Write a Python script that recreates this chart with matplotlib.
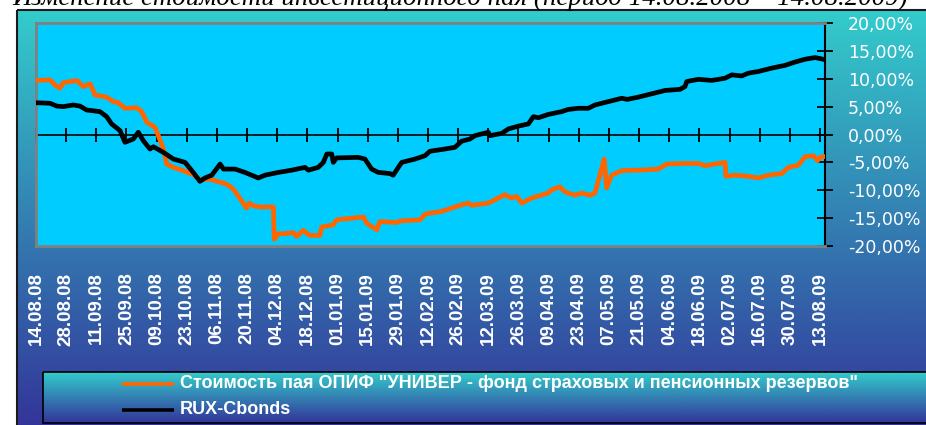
import numpy as np
import matplotlib
matplotlib.use("Agg")
import matplotlib.pyplot as plt
from matplotlib.patches import Rectangle

# ---------------- data ----------------
title_text = "Изменение стоимости инвестиционного пая (период 14.08.2008 – 14.08.2009)"
series_names = ['Стоимость пая ОПИФ "УНИВЕР - фонд страховых и пенсионных резервов"',
                'RUX-Cbonds']

tick_labels = ["14.08.08", "28.08.08", "11.09.08", "25.09.08", "09.10.08", "23.10.08",
               "06.11.08", "20.11.08", "04.12.08", "18.12.08", "01.01.09", "15.01.09",
               "29.01.09", "12.02.09", "26.02.09", "12.03.09", "26.03.09", "09.04.09",
               "23.04.09", "07.05.09", "21.05.09", "04.06.09", "18.06.09", "02.07.09",
               "16.07.09", "30.07.09", "13.08.09"]
tick_days = [14 * i for i in range(len(tick_labels))]   # days since 14.08.08

y_ticks = [-20, -15, -10, -5, 0, 5, 10, 15, 20]

# days since 14.08.2008, value in %
fund_days = [0, 6.5, 8.8, 11.1, 12.7, 18.9, 22.0, 25.1, 27.4, 32.8, 35.9, 38.2, 41.3,
             46.7, 49.1, 51.4, 55.2, 56.8, 59.1, 60.7, 63.8, 68.4, 73.0, 76.1, 80.8,
             84.0, 87.7, 90.5, 92.0, 94.7, 97.8, 99.0, 101.0, 104.0, 110.2, 110.6,
             112.5, 114.8, 119.5, 121.0, 124.1, 126.0, 127.2, 131.8, 132.6, 138.0,
             139.6, 152.0, 153.5, 158.2, 159.7, 167.5, 169.0, 178.3, 180.6, 183.0,
             188.3, 197.6, 200.7, 202.3, 210.0, 217.7, 220.8, 223.2, 225.5, 230.1,
             237.8, 239.4, 243.3, 245.6, 250.2, 253.3, 257.2, 259.5, 263.8, 264.9,
             267.2, 271.9, 275.8, 279.6, 288.9, 292.8, 299.8, 307.5, 310.6, 315.2,
             319.9, 320.3, 324.5, 330.7, 335.3, 340.0, 346.2, 349.3, 353.9, 357.0,
             360.9, 362.9, 364.0, 365.5]
fund_vals = [9.7, 9.8, 8.9, 8.3, 9.3, 9.7, 8.6, 9.1, 7.1, 6.7, 5.9, 5.7, 4.7,
             4.8, 4.1, 2.2, 1.3, -0.2, -2.6, -5.3, -5.9, -6.5, -7.2, -8.1, -8.0,
             -8.4, -8.8, -9.4, -10.0, -11.5, -13.2, -12.3, -12.8, -13.0, -13.0, -18.8,
             -17.8, -17.8, -17.6, -18.3, -17.2, -17.8, -18.1, -18.1, -16.6, -16.2,
             -15.3, -14.8, -15.9, -17.1, -15.6, -15.8, -15.5, -15.3, -14.3, -14.1,
             -13.8, -12.6, -12.3, -12.7, -12.3, -10.8, -11.4, -11.1, -12.3, -11.4,
             -10.5, -9.9, -9.4, -10.3, -10.9, -10.5, -10.9, -10.5, -4.4, -9.6,
             -7.3, -6.5, -6.4, -6.4, -6.2, -5.3, -5.2, -5.2, -5.6, -5.3,
             -5.0, -7.5, -7.3, -7.5, -7.8, -7.3, -7.0, -5.9, -5.5, -4.0,
             -3.8, -4.7, -4.1, -4.0]

rux_days = [0, 6.5, 9.6, 12.7, 17.3, 20.4, 23.5, 29.7, 32.8, 35.1, 39.0, 41.3, 45.2,
            47.5, 49.8, 52.9, 54.5, 59.1, 63.8, 69.2, 73.0, 76.1, 78.4, 81.6, 85.5,
            87.0, 92.4, 97.0, 103.2, 106.3, 112.5, 118.7, 124.9, 126.4, 131.0, 133.4,
            135.0, 137.3, 138.0, 139.6, 149.6, 152.7, 155.8, 158.9, 164.3, 165.8,
            168.2, 169.8, 176.0, 180.6, 182.9, 189.9, 194.5, 197.6, 201.5, 203.8,
            210.0, 210.8, 216.2, 219.3, 223.9, 228.6, 230.9, 233.2, 237.8, 244.0,
            247.1, 251.8, 256.4, 259.5, 265.7, 271.9, 274.5, 279.6, 285.8, 292.0,
            299.0, 301.3, 302.1, 307.5, 313.7, 319.9, 323.0, 327.6, 330.7, 335.3,
            341.5, 347.7, 352.4, 357.0, 361.7, 365.5]
rux_vals = [5.7, 5.6, 5.1, 5.0, 5.3, 5.1, 4.4, 4.1, 3.2, 1.9, 0.7, -1.4, -0.8,
            0.4, -1.1, -2.6, -2.2, -3.2, -4.4, -5.0, -6.8, -8.4, -7.8, -7.3, -5.3,
            -6.2, -6.2, -6.8, -7.8, -7.3, -6.8, -6.4, -5.9, -6.4, -5.9, -5.0,
            -3.5, -3.5, -5.0, -4.2, -4.1, -4.4, -6.2, -6.8, -7.0, -7.3,
            -5.9, -5.0, -4.4, -3.8, -3.0, -2.6, -2.3, -1.2, -0.8, -0.2,
            0.4, -0.2, 0.2, 1.0, 1.5, 1.9, 3.2, 3.0, 3.6, 4.1,
            4.5, 4.7, 4.7, 5.3, 5.9, 6.5, 6.3, 6.7, 7.3, 7.9,
            8.1, 8.6, 9.5, 9.9, 9.7, 10.1, 10.7, 10.5, 11.0, 11.3,
            11.9, 12.4, 13.0, 13.5, 13.8, 13.5]

# ---------------- style ----------------
W, H = 926, 425
ORANGE = "#FF6600"
TEAL = np.array([51, 204, 204]) / 255
BLUE = np.array([51, 51, 153]) / 255
PLOT_BG = "#00CCFF"

fig = plt.figure(figsize=(W / 100, H / 100), dpi=100)
fig.patch.set_facecolor("white")

# background overlay in pixel coordinates
bg = fig.add_axes([0, 0, 1, 1], zorder=0)
bg.axis("off")


def vgrad(ax, x0, x1, y0, y1, c_top, c_bot):
    n = 256
    t = np.linspace(0, 1, n)[:, None]
    arr = (c_top[None, :] * (1 - t) + c_bot[None, :] * t)[:, None, :]
    ax.imshow(arr, extent=(x0, x1, y1, y0), origin="upper", aspect="auto",
              interpolation="bilinear", zorder=0)


# outer chart area
vgrad(bg, 17, 935, 10, 430, TEAL, BLUE)
bg.add_patch(Rectangle((17, 10), 935 - 17, 430 - 10, fill=False,
                       edgecolor="#1a1a1a", lw=1.5, zorder=1))
# legend box
vgrad(bg, 43, 935, 372, 423, TEAL, BLUE)
bg.add_patch(Rectangle((43, 372), 935 - 43, 423 - 372, fill=False,
                       edgecolor="black", lw=1.2, zorder=1))
bg.set_xlim(0, W)
bg.set_ylim(H, 0)

# legend entries
leg_colors = [ORANGE, "black"]
leg_y = [384, 410]
for name, col, yy in zip(series_names, leg_colors, leg_y):
    bg.plot([122, 174], [yy, yy], color=col, lw=2.6, solid_capstyle="butt", zorder=2)
    bg.text(180, yy, name, color="white", fontsize=13, fontweight="bold",
            family="Liberation Sans", va="center", ha="left", zorder=2)

# title (cut off at the top)
tt = bg.text(12, 5, title_text, fontsize=20, family="Liberation Serif",
             style="italic", color="black", ha="left", va="baseline", zorder=3)
fig.canvas.draw()
r = fig.canvas.get_renderer()
wpx = tt.get_window_extent(r).width
tt.set_fontsize(20 * 893 / wpx)

# main plot
ax = fig.add_axes([36 / W, 1 - 246 / H, 789 / W, 223 / H], zorder=2)
ax.set_facecolor(PLOT_BG)
ax.plot(fund_days, fund_vals, color=ORANGE, lw=3.4, solid_joinstyle="round", zorder=3)
ax.plot(rux_days, rux_vals, color="black", lw=3.4, solid_joinstyle="round", zorder=4)

ax.set_xlim(0, 789 / 2.154)
ax.set_ylim(-20, 20)

for s in ["left", "top", "bottom"]:
    ax.spines[s].set_color("#808080")
    ax.spines[s].set_linewidth(2)
ax.spines["right"].set_color("black")
ax.spines["right"].set_linewidth(1.5)

# zero line with crossing ticks
ax.axhline(0, color="black", lw=1.2, zorder=2)
ax.plot(tick_days, np.zeros(len(tick_days)), ls="none", marker="|",
        markersize=10, markeredgewidth=1.3, color="black", zorder=2, clip_on=False)

# x labels below plot area
ax.set_xticks(tick_days)
ax.set_xticklabels(tick_labels, rotation=90, color="white", fontweight="bold",
                   fontsize=13.5, family="Liberation Sans")
ax.tick_params(axis="x", length=0, pad=19)

# right y axis
ax.yaxis.tick_right()
ax.set_yticks(y_ticks)
ax.set_yticklabels([f"{v:.2f}%".replace(".", ",") for v in y_ticks],
                   color="white", fontsize=12.5, family="DejaVu Sans")
ax.tick_params(axis="y", direction="inout", length=12, width=1.3, color="black", pad=10.5)

fig.savefig("out.png", dpi=100)
